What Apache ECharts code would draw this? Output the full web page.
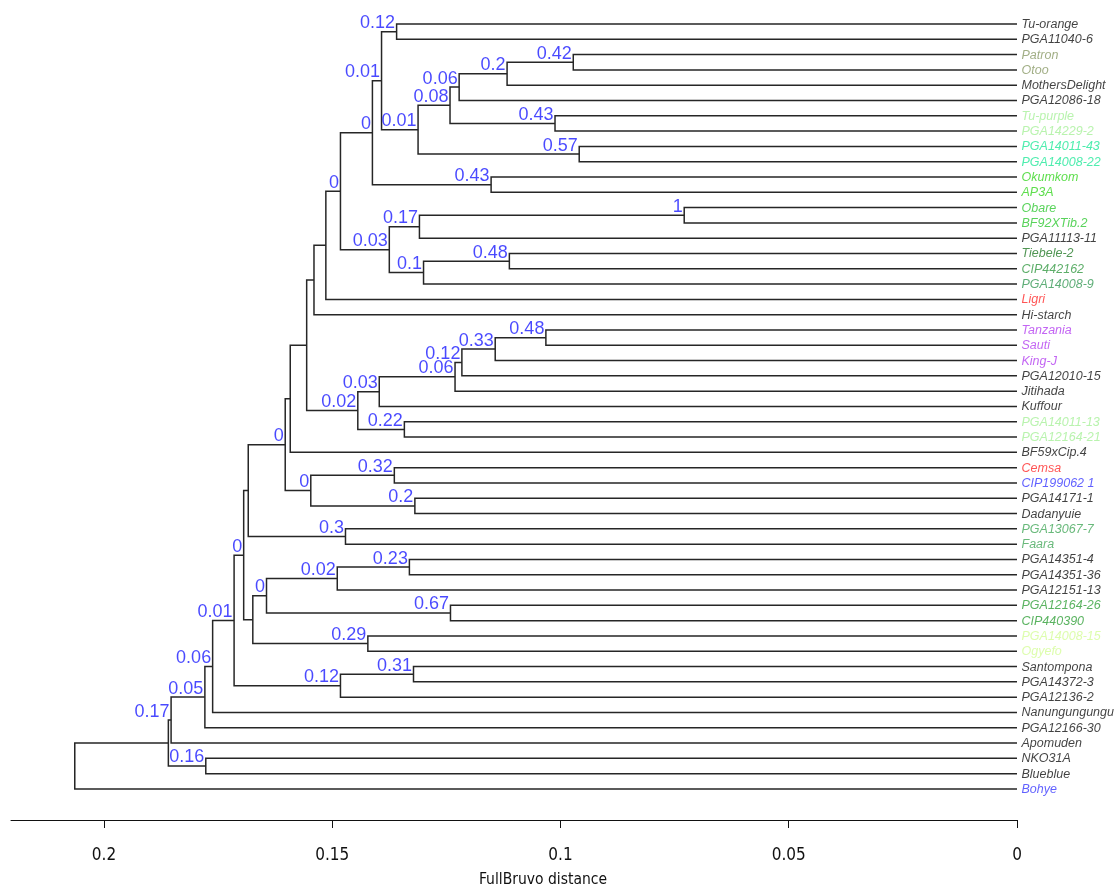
<!DOCTYPE html>
<html><head><meta charset="utf-8">
<script src="https://cdn.jsdelivr.net/npm/echarts@6/dist/echarts.min.js"></script>
<style>html,body{margin:0;padding:0;background:#fff}#c{width:1114px;height:887px}</style>
</head><body><div id="c"></div>
<script>
// Leaf order (top to bottom)
const leaves = ['Tu-orange','PGA11040-6','Patron','Otoo','MothersDelight','PGA12086-18','Tu-purple','PGA14229-2',
 'PGA14011-43','PGA14008-22','Okumkom','AP3A','Obare','BF92XTib.2','PGA11113-11','Tiebele-2','CIP442162',
 'PGA14008-9','Ligri','Hi-starch','Tanzania','Sauti','King-J','PGA12010-15','Jitihada','Kuffour','PGA14011-13',
 'PGA12164-21','BF59xCip.4','Cemsa','CIP199062 1','PGA14171-1','Dadanyuie','PGA13067-7','Faara','PGA14351-4',
 'PGA14351-36','PGA12151-13','PGA12164-26','CIP440390','PGA14008-15','Ogyefo','Santompona','PGA14372-3',
 'PGA12136-2','Nanungungungu','PGA12166-30','Apomuden','NKO31A','Blueblue','Bohye'];
const BK = '#111111';
const leafColors = [BK,BK,'#8a9a66','#8a9a66',BK,BK,'#a8f09a','#a8f09a',
 '#22e89a','#22e89a','#36d620','#36d620','#30c832','#30c832',BK,'#247a28','#349a44',
 '#379a56','#ff2a2a',BK,'#b440f0','#b440f0','#b440f0',BK,BK,BK,'#a8f09a',
 '#a8f09a',BK,'#ff2a2a','#3a3aff',BK,BK,'#44a85a','#44a85a',BK,
 BK,BK,'#32a03a','#32a03a','#d4fc98','#d4fc98',BK,BK,
 BK,BK,BK,BK,BK,BK,'#3a3aff'];
// Merges: [id, left child, right child, height (distance), bootstrap label]
const merges = [
 ['n1','Tu-orange','PGA11040-6',0.1359,'0.12'],
 ['n2','Patron','Otoo',0.0972,'0.42'],
 ['n3','n2','MothersDelight',0.1117,'0.2'],
 ['n4','n3','PGA12086-18',0.1222,'0.06'],
 ['n5','Tu-purple','PGA14229-2',0.1012,'0.43'],
 ['n6','n4','n5',0.1242,'0.08'],
 ['n7','PGA14011-43','PGA14008-22',0.0959,'0.57'],
 ['n8','n6','n7',0.1312,'0.01'],
 ['n9','n1','n8',0.1392,'0.01'],
 ['n10','Okumkom','AP3A',0.1152,'0.43'],
 ['n11','n9','n10',0.1412,'0'],
 ['n12','Obare','BF92XTib.2',0.0729,'1'],
 ['n13','n12','PGA11113-11',0.1309,'0.17'],
 ['n14','Tiebele-2','CIP442162',0.1112,'0.48'],
 ['n15','n14','PGA14008-9',0.1300,'0.1'],
 ['n16','n13','n15',0.1375,'0.03'],
 ['n17','n11','n16',0.1482,'0'],
 ['n18','n17','Ligri',0.1514,''],
 ['n19','n18','Hi-starch',0.1540,''],
 ['n20','Tanzania','Sauti',0.1032,'0.48'],
 ['n21','n20','King-J',0.1143,'0.33'],
 ['n22','n21','PGA12010-15',0.1216,'0.12'],
 ['n23','n22','Jitihada',0.1231,'0.06'],
 ['n24','n23','Kuffour',0.1397,'0.03'],
 ['n25','PGA14011-13','PGA12164-21',0.1342,'0.22'],
 ['n26','n24','n25',0.1444,'0.02'],
 ['n27','n19','n26',0.1556,''],
 ['n28','n27','BF59xCip.4',0.1592,''],
 ['n29','Cemsa','CIP199062 1',0.1364,'0.32'],
 ['n30','PGA14171-1','Dadanyuie',0.1319,'0.2'],
 ['n31','n29','n30',0.1547,'0'],
 ['n32','n28','n31',0.1603,'0'],
 ['n33','PGA13067-7','Faara',0.1471,'0.3'],
 ['n34','n32','n33',0.1684,''],
 ['n35','PGA14351-4','PGA14351-36',0.1331,'0.23'],
 ['n36','n35','PGA12151-13',0.1489,'0.02'],
 ['n37','PGA12164-26','CIP440390',0.1241,'0.67'],
 ['n38','n36','n37',0.1644,'0'],
 ['n39','PGA14008-15','Ogyefo',0.1422,'0.29'],
 ['n40','n38','n39',0.1674,''],
 ['n41','n34','n40',0.1694,'0'],
 ['n42','Santompona','PGA14372-3',0.1322,'0.31'],
 ['n43','n42','PGA12136-2',0.1482,'0.12'],
 ['n44','n41','n43',0.1715,'0.01'],
 ['n45','n44','Nanungungungu',0.1762,'0.06'],
 ['n46','n45','PGA12166-30',0.1779,'0.05'],
 ['n47','n46','Apomuden',0.1853,'0.17'],
 ['n48','NKO31A','Blueblue',0.1777,'0.16'],
 ['n49','n47','n48',0.1859,''],
 ['n50','n49','Bohye',0.2064,'']
];
const xTicks = [0, 0.05, 0.1, 0.15, 0.2];
const axisTitle = 'FullBruvo distance';

// Build node positions from the tree
const pos = {};
leaves.forEach((n, i) => { pos[n] = { x: 0, y: i }; });
const segs = [], nodeLabels = [];
merges.forEach(([id, a, b, h, lab]) => {
  const A = pos[a], B = pos[b];
  pos[id] = { x: h, y: (A.y + B.y) / 2 };
  segs.push({ coords: [[A.x, A.y], [h, A.y], [h, B.y], [B.x, B.y]] });
  if (lab !== '') nodeLabels.push({ value: [h, (A.y + B.y) / 2], lab: lab });
});

const chart = echarts.init(document.getElementById('c'), null, { renderer: 'canvas' });
chart.setOption({
  backgroundColor: '#ffffff',
  animation: false,
  grid: { left: 11, right: 97, top: 16.35, bottom: 67, containLabel: false, outerBoundsMode: 'none' },
  xAxis: {
    type: 'value', inverse: true, min: 0, max: 0.22037,
    name: axisTitle, nameLocation: 'middle', nameGap: 52,
    nameTextStyle: { fontSize: 15.5, color: '#111', padding: [0, 0, 0, 58],
      fontFamily: 'DejaVu Sans Condensed, Liberation Sans, sans-serif' },
    axisLine: { show: true, onZero: false, lineStyle: { color: '#111', width: 1 } },
    axisTick: { show: true, length: 8, customValues: xTicks, lineStyle: { color: '#111' } },
    axisLabel: { customValues: xTicks, margin: 27, fontSize: 17, color: '#111',
      fontFamily: 'DejaVu Sans Condensed, Liberation Sans, sans-serif',
      formatter: v => String(+v.toFixed(2)) },
    splitLine: { show: false }
  },
  yAxis: { type: 'value', inverse: true, min: -0.5, max: 52.03, show: false },
  series: [
    { type: 'lines', coordinateSystem: 'cartesian2d', polyline: true, silent: true,
      lineStyle: { color: '#262626', width: 1.5, opacity: 1 }, data: segs },
    { type: 'scatter', symbolSize: 1, itemStyle: { color: 'transparent' }, silent: true, clip: false,
      data: nodeLabels,
      label: { show: true, position: [-1, -8], align: 'right', verticalAlign: 'middle',
        fontSize: 18, color: '#1c1cff', fontFamily: 'Liberation Sans, Arial, sans-serif',
        formatter: p => p.data.lab } },
    { type: 'scatter', symbolSize: 1, itemStyle: { color: 'transparent' }, silent: true, clip: false,
      data: leaves.map((n, i) => ({ value: [0, i], name: n, label: { color: leafColors[i] } })),
      label: { show: true, position: [5, 1], align: 'left', verticalAlign: 'middle',
        fontSize: 12.5, fontStyle: 'italic', fontFamily: 'Liberation Sans, Arial, sans-serif',
        formatter: p => p.name } }
  ]
});
</script></body></html>
